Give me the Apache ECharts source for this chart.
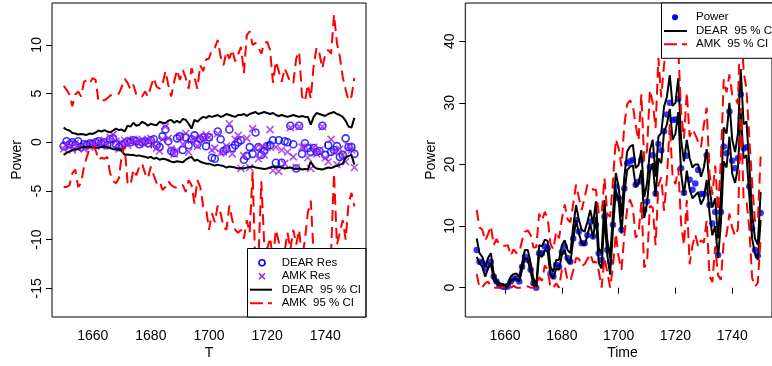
<!DOCTYPE html>
<html><head><meta charset="utf-8">
<script src="https://cdn.jsdelivr.net/npm/echarts@6/dist/echarts.min.js"></script>
<style>html,body{margin:0;padding:0;background:#fff}#c{width:772px;height:366px}</style>
</head><body><div id="c"></div><script>
const years = [1650,1651,1652,1653,1654,1655,1656,1657,1658,1659,1660,1661,1662,1663,1664,1665,1666,1667,1668,1669,1670,1671,1672,1673,1674,1675,1676,1677,1678,1679,1680,1681,1682,1683,1684,1685,1686,1687,1688,1689,1690,1691,1692,1693,1694,1695,1696,1697,1698,1699,1700,1701,1702,1703,1704,1705,1706,1707,1708,1709,1710,1711,1712,1713,1714,1715,1716,1717,1718,1719,1720,1721,1722,1723,1724,1725,1726,1727,1728,1729,1730,1731,1732,1733,1734,1735,1736,1737,1738,1739,1740,1741,1742,1743,1744,1745,1746,1747,1748,1749,1750];
const xTicks = [1660,1680,1700,1720,1740];
const yTicksLeft = [-15,-10,-5,0,5,10];
const yTicksRight = [0,10,20,30,40];

// Left panel: residuals and 95% CI bands
const dearRes = [-0.4,0.1,-0.2,0.0,-0.3,0.1,-0.5,-0.2,-0.3,-0.1, -0.2,0.0,0.1,-0.1,0.0,-0.3,0.3,0.4,-0.2,-0.5, -0.3,-0.1,0.1,0.0,0.2,0.1,-0.2,0.0,0.1,-0.1, 0.2,0.3,-0.3,-0.5,0.6,1.3,0.1,-0.9,-1.1,0.4, 0.6,-0.8,0.5,-0.3,0.3,0.7,-0.2,0.3,0.5,-0.4, 0.5,-1.6,-1.7,1.1,0.3,-0.9,-0.7,1.3,-0.6,-0.3, 0.0,0.2,-1.8,-1.4,-0.5,-1.2,1.0,-0.5,-1.3,-0.9, -0.4,-0.3,0.2,-2.1,0.2,-2.1,0.1,0.0,1.7,-0.2, -2.7,1.7,-1.2,-0.1,-0.6,-1.0,-0.6,-1.0,-0.9,1.7, -1.3,-0.3,-1.0,-0.8,-0.4,-1.5,-1.3,0.4,-0.5,-0.5,-1.2];
const amkRes = [-0.7,-0.2,-0.5,-0.8,-0.1,-0.6,-0.4,-0.7,-0.2,-0.5, -0.1,-0.3,0.0,-0.4,0.2,-0.2,0.5,0.8,0.1,-0.7, -0.1,0.2,-0.3,0.1,0.3,0.0,-0.1,0.3,-0.2,0.1, 0.4,-0.2,-0.6,-0.9,0.3,1.6,0.4,-0.7,-1.2,-0.8, 0.6,-0.2,0.9,-1.0,0.2,0.4,-0.4,0.6,0.2,0.8, 0.5,-0.8,-0.6,0.9,-1.1,-1.0,-0.4,1.9,-1.2,0.3, 0.7,-2.7,-1.4,0.4,-2.6,1.4,-0.6,-1.7,-0.5,-1.3, -0.5,1.3,-2.9,-0.5,-3.0,-0.8,-2.2,-1.0,1.5,-1.5, -2.6,1.6,-0.5,-0.45,-1.6,-2.7,-0.5,-1.2,-0.8,1.6, -1.6,-2.0,0.3,-1.0,-2.3,-0.7,-1.3,-2.0,-0.4,-0.8,-2.6];
const dearUpL = [1.5,1.3,1.2,0.95,0.9,0.8,0.85,0.8,0.75,0.9, 0.85,1.0,1.2,1.1,1.25,1.1,1.0,1.2,1.4,1.25, 1.3,1.1,1.7,1.6,2.0,1.7,1.8,2.1,1.95,1.7, 1.9,1.8,1.75,2.1,2.0,1.95,2.2,2.3,2.0,2.2, 2.0,2.4,2.3,1.9,1.4,2.3,2.1,2.4,2.6,2.5, 2.7,2.6,2.7,2.8,2.6,2.7,2.9,2.8,2.7,2.6, 2.8,2.8,2.9,2.7,2.9,3.0,3.1,2.9,3.0,3.1, 3.0,2.9,3.0,2.8,2.7,2.8,2.7,2.6,2.7,2.8, 2.7,2.6,2.7,2.6,2.6,1.8,2.6,3.0,2.9,2.8, 2.7,2.9,3.0,3.1,2.9,2.8,2.6,2.2,1.6,1.5,2.5];
const dearLoL = [-1.3,-1.1,-0.95,-0.8,-0.75,-0.7,-0.55,-0.5,-0.5,-0.45, -0.5,-0.6,-0.55,-0.5,-0.45,-0.5,-0.6,-0.7,-0.75,-0.7, -0.85,-1.3,-1.25,-1.3,-1.3,-1.4,-1.35,-1.45,-1.5,-1.6, -1.5,-1.7,-1.6,-1.8,-1.7,-1.75,-1.85,-2.0,-2.05,-1.95, -2.0,-2.05,-1.8,-1.6,-1.5,-1.9,-1.8,-2.0,-2.1,-2.2, -2.2,-2.3,-2.4,-2.3,-2.4,-2.45,-2.6,-2.5,-2.55,-2.6, -2.7,-2.65,-2.7,-2.6,-2.55,-2.5,-2.6,-2.65,-2.7,-2.75, -2.7,-2.6,-2.5,-2.6,-2.55,-2.6,-2.7,-2.65,-2.6,-2.7, -2.75,-2.7,-2.8,-2.75,-2.8,-2.0,-2.5,-2.7,-2.75,-2.8, -2.7,-2.6,-2.65,-2.5,-2.45,-2.3,-2.2,-1.6,-1.4,-1.3,-2.3];
const amkUpL = [5.8,5.4,4.9,3.7,4.9,5.2,4.7,6.2,6.4,6.1, 6.6,6.4,4.2,4.3,4.3,4.5,4.8,4.9,4.9,5.0, 5.7,6.5,6.1,5.4,5.9,4.9,4.7,4.7,5.2,4.7, 5.7,6.6,5.7,5.5,5.9,7.3,5.9,4.7,6.2,7.4, 6.4,7.4,6.6,5.5,7.6,6.7,5.5,7.9,7.3,8.5, 8.6,9.5,9.7,10.5,8.8,7.9,9.3,8.6,9.5,8.3, 9.0,9.8,7.1,11.0,11.4,10.0,10.2,9.7,9.1,10.2, 10.3,9.5,6.1,8.3,7.3,6.2,7.6,6.9,6.1,6.1, 8.6,9.3,4.7,4.2,5.9,4.5,7.9,9.7,9.1,7.6, 9.1,9.5,9.1,13.1,10.2,8.8,6.7,5.4,4.3,4.7,6.6];
const amkLoL = [-4.6,-4.6,-4.4,-3.2,-2.8,-4.6,-4.2,-2.5,-1.5,-0.6, -0.4,-0.8,-1.8,-1.6,-1.7,-1.5,-3.2,-4.0,-4.2,-3.7, -1.3,-0.4,-4.2,-4.4,-2.8,-3.4,-2.5,-2.2,-3.2,-3.7, -2.5,-3.4,-4.2,-4.0,-4.9,-4.6,-4.0,-4.4,-4.6,-4.7, -4.6,-4.4,-5.1,-3.9,-4.4,-6.3,-3.9,-4.6,-6.6,-6.8, -9.0,-7.3,-8.2,-6.5,-7.3,-8.7,-9.0,-6.5,-8.0,-9.0, -9.3,-9.0,-9.9,-8.0,-9.3,-3.0,-13.5,-12.0,-4.0,-10.5, -11.0,-9.8,-12.0,-9.0,-10.2,-14.5,-11.2,-9.3,-11.0,-9.0, -10.5,-9.0,-12.0,-10.0,-7.2,-6.0,-11.5,-16.7,-14.0,-15.0, -12.5,-13.0,-11.2,-3.2,-10.5,-9.3,-8.0,-10.0,-6.3,-5.2,-6.6];

// Right panel: observed power and 95% CI bands
const power = [6.1,4.2,4.0,3.1,3.7,4.2,1.8,1.0,0.4,0.2, 0.1,0.2,1.0,1.5,1.5,1.0,3.4,5.0,4.5,2.9, 0.7,0.0,5.6,5.6,6.7,6.4,2.3,1.8,3.7,3.4, 5.8,6.7,4.8,4.2,8.0,11.0,9.1,7.2,7.2,8.5, 10.7,8.3,10.2,5.6,4.5,11.5,6.1,4.2,10.2,16.4, 14.5,9.4,16.1,20.2,20.5,20.7,16.7,17.2,20.7,12.6, 14.0,19.6,21.5,15.3,23.3,22.3,25.4,28.1,30.0,27.2, 27.3,30.6,19.4,15.4,21.4,17.5,15.9,16.9,19.1,15.2, 15.2,21.5,13.4,10.4,12.3,5.3,12.3,22.9,21.8,28.6, 20.6,19.4,21.0,31.4,22.6,22.8,16.4,9.6,6.1,5.2,12.1];
const dearUpR = [8.0,5.6,5.0,3.4,4.8,5.6,2.3,1.2,0.7,0.6, 0.4,0.7,1.8,2.2,2.3,1.8,4.0,6.1,6.1,4.0, 1.5,0.4,6.9,6.7,7.8,7.6,3.4,2.6,4.5,4.5, 6.9,7.7,6.1,5.6,9.9,13.4,11.0,9.4,9.1,10.7, 12.6,10.4,14.0,6.4,5.6,14.2,7.7,4.8,12.0,18.6, 16.4,11.5,18.0,22.1,22.9,23.2,19.4,19.9,22.3,14.7, 16.9,22.3,24.0,18.0,24.5,25.1,29.4,31.0,34.5,29.5, 30.0,34.0,24.0,20.5,24.0,21.0,19.5,20.0,20.0,18.0, 19.5,22.5,16.0,13.0,14.5,8.0,15.0,26.0,25.0,30.0, 24.0,22.0,25.0,35.5,26.5,27.0,20.0,12.0,8.0,7.0,15.5];
const dearLoR = [5.0,4.0,3.4,1.8,3.1,4.0,1.2,0.7,0.3,0.2, 0.05,0.2,1.0,1.4,1.5,1.0,2.9,4.8,4.5,2.6, 0.4,0.05,5.3,5.0,6.1,5.8,2.1,1.5,3.1,2.9, 5.3,6.1,4.2,4.0,7.7,11.0,8.8,7.2,6.9,8.5, 10.4,8.0,11.5,4.0,3.1,11.5,5.3,2.1,9.4,15.9, 14.0,8.8,15.3,19.1,19.6,19.9,16.4,16.9,19.1,11.3, 13.7,18.8,20.2,14.8,21.0,20.2,25.3,26.5,29.0,24.0, 25.0,28.5,18.5,15.0,19.0,16.0,14.5,15.0,15.5,13.5, 14.5,17.5,12.0,8.5,10.0,4.8,10.5,20.5,19.5,24.5, 18.5,17.0,19.5,28.5,21.0,21.5,15.0,8.0,5.5,4.5,11.0];
const amkUpR = [12.6,9.8,9.4,7.6,8.7,10.0,6.9,7.9,7.0,6.8, 6.8,6.9,5.2,6.2,5.6,5.7,7.7,9.1,9.3,8.6, 6.5,6.6,12.0,10.9,12.3,11.3,7.1,6.2,9.1,8.0, 11.1,13.5,11.1,10.6,13.6,16.7,14.6,12.6,14.6,16.7, 16.5,15.9,15.9,12.1,11.9,17.8,12.0,11.5,17.3,24.1, 22.6,19.7,26.4,29.8,30.4,29.6,26.4,23.9,31.4,20.6, 22.3,32.1,30.0,25.9,37.3,30.9,36.2,39.5,39.6,38.7, 38.1,38.8,28.4,24.2,31.7,24.5,25.7,24.8,23.7,22.8, 26.4,29.2,18.6,15.1,19.8,12.5,20.7,33.8,31.7,34.6, 31.3,30.9,29.8,45.5,35.1,32.3,24.4,17.0,10.8,10.7,21.3];
const amkLoR = [2.2,0,0.1,0.7,1.0,0.2,0,0,0,0.1, 0,0,0,0.3,0,0,0,0.2,0.2,0, 0,0,1.7,1.1,3.6,3.0,0,0,0.7,0, 2.9,3.5,1.2,1.1,2.8,4.8,4.7,3.5,3.8,4.6, 5.5,4.1,4.2,2.7,0,4.8,2.6,0,3.4,8.8, 5.0,2.9,8.5,12.8,14.3,13.0,8.1,8.8,13.9,3.3, 4.0,13.3,13.0,6.9,16.6,17.9,12.5,17.8,26.5,18.0, 16.8,19.5,10.3,6.9,14.2,3.8,6.9,8.6,6.6,7.7, 7.3,10.9,1.9,0.9,6.7,2.0,1.3,7.4,8.6,12.0, 9.7,8.4,9.5,29.2,14.4,14.2,9.7,1.6,0.2,0.8,8.1];

const FONT = '"Liberation Sans", Arial, Helvetica, sans-serif';
const BLUE = '#0000FF', PURPLE = '#A020F0', RED = '#FF0000', BLACK = '#000000';
const DASH = [11, 6];
const pairs = arr => years.map((y, i) => [y, arr[i]]);
const plain = v => String(v);

function xAxisFor(gi) {
  return {
    type: 'value', gridIndex: gi, min: 1646, max: 1754,
    axisLine: { show: false }, splitLine: { show: false },
    axisTick: { show: true, length: 6, customValues: xTicks, lineStyle: { color: BLACK, width: 1 } },
    axisLabel: { customValues: xTicks, formatter: plain, color: BLACK, fontSize: 14, fontFamily: FONT, margin: 12 }
  };
}
function yAxisFor(gi, min, max, ticks) {
  return {
    type: 'value', gridIndex: gi, min: min, max: max,
    axisLine: { show: false }, splitLine: { show: false },
    axisTick: { show: true, length: 6, customValues: ticks, lineStyle: { color: BLACK, width: 1 } },
    axisLabel: { customValues: ticks, formatter: plain, color: BLACK, fontSize: 14, fontFamily: FONT, rotate: 90, margin: 8 }
  };
}
function lineS(xi, data, color, dashed) {
  return {
    type: 'line', xAxisIndex: xi, yAxisIndex: xi, data: pairs(data), symbol: 'none', z: 3,
    lineStyle: { color: color, width: 2, type: dashed ? DASH : 'solid' }, animation: false, silent: true
  };
}

const chart = echarts.init(document.getElementById('c'), null, { renderer: 'canvas' });
const legendZ = 100;
const LFS = 11.5;
const txt = (x, y, s, size, extra) => Object.assign({
  type: 'text', x: x, y: y, z: legendZ,
  style: { text: s, fontSize: size, fontFamily: FONT, fill: BLACK, align: 'left', verticalAlign: 'middle' }
}, extra || {});
const title = (x, y, s, rot) => ({
  type: 'text', x: x, y: y, z: legendZ, rotation: rot || 0,
  style: { text: s, fontSize: 14, fontFamily: FONT, fill: BLACK, align: 'center', verticalAlign: 'middle' }
});

chart.setOption({
  animation: false,
  backgroundColor: '#ffffff',
  grid: [
    { left: 52, top: 3, width: 314, height: 314, show: true, borderColor: BLACK, borderWidth: 1, backgroundColor: 'transparent' },
    { left: 465.3, top: 3, width: 314.3, height: 314, show: true, borderColor: BLACK, borderWidth: 1, backgroundColor: 'transparent' }
  ],
  xAxis: [xAxisFor(0), xAxisFor(1)],
  yAxis: [yAxisFor(0, -17.95, 14.3, yTicksLeft), yAxisFor(1, -4.76, 46.2, yTicksRight)],
  series: [
    { type: 'scatter', xAxisIndex: 0, yAxisIndex: 0, data: pairs(dearRes), symbol: 'circle', symbolSize: 7, z: 2,
      itemStyle: { color: 'rgba(0,0,0,0)', borderColor: BLUE, borderWidth: 1.6 } },
    { type: 'scatter', xAxisIndex: 0, yAxisIndex: 0, data: pairs(amkRes), symbol: 'path://M0 0L10 10M10 0L0 10', symbolSize: 7, z: 2,
      itemStyle: { color: 'rgba(0,0,0,0)', borderColor: PURPLE, borderWidth: 1.6 } },
    lineS(0, dearUpL, BLACK, false),
    lineS(0, dearLoL, BLACK, false),
    lineS(0, amkUpL, RED, true),
    lineS(0, amkLoL, RED, true),
    { type: 'scatter', xAxisIndex: 1, yAxisIndex: 1, data: pairs(power), symbol: 'circle', symbolSize: 6.5, z: 2,
      itemStyle: { color: BLUE } },
    lineS(1, dearUpR, BLACK, false),
    lineS(1, dearLoR, BLACK, false),
    lineS(1, amkUpR, RED, true),
    lineS(1, amkLoR, RED, true)
  ],
  graphic: [
    title(209, 353, 'T'),
    title(622.5, 353, 'Time'),
    title(17, 160, 'Power', Math.PI / 2),
    title(431, 160, 'Power', Math.PI / 2),
    // left legend
    { type: 'rect', z: legendZ - 1, shape: { x: 247.5, y: 248.5, width: 118.5, height: 68.5 }, style: { fill: '#fff', stroke: BLACK, lineWidth: 1 } },
    { type: 'circle', z: legendZ, shape: { cx: 262, cy: 262.7, r: 3 }, style: { fill: 'none', stroke: BLUE, lineWidth: 1.6 } },
    { type: 'line', z: legendZ, shape: { x1: 259, y1: 273.3, x2: 265, y2: 279.3 }, style: { stroke: PURPLE, lineWidth: 1.6 } },
    { type: 'line', z: legendZ, shape: { x1: 265, y1: 273.3, x2: 259, y2: 279.3 }, style: { stroke: PURPLE, lineWidth: 1.6 } },
    { type: 'line', z: legendZ, shape: { x1: 250, y1: 289.7, x2: 272, y2: 289.7 }, style: { stroke: BLACK, lineWidth: 2 } },
    { type: 'line', z: legendZ, shape: { x1: 250, y1: 303.3, x2: 272, y2: 303.3 }, style: { stroke: RED, lineWidth: 2, lineDash: [13, 5] } },
    txt(281.7, 262.7, 'DEAR Res', LFS),
    txt(281.7, 276.3, 'AMK Res', LFS),
    txt(281.7, 289.7, 'DEAR  95 % CI', LFS),
    txt(281.7, 303.3, 'AMK  95 % CI', LFS),
    { type: 'rect', z: legendZ + 1, shape: { x: 366.5, y: 250, width: 20, height: 66 }, style: { fill: '#fff' } },
    { type: 'line', z: legendZ + 2, shape: { x1: 366, y1: 248.5, x2: 366, y2: 317 }, style: { stroke: BLACK, lineWidth: 1 } },
    // right legend
    { type: 'rect', z: legendZ - 1, shape: { x: 661.5, y: 3, width: 200, height: 55.3 }, style: { fill: '#fff', stroke: BLACK, lineWidth: 1 } },
    { type: 'circle', z: legendZ, shape: { cx: 675, cy: 17.3, r: 3 }, style: { fill: BLUE } },
    { type: 'line', z: legendZ, shape: { x1: 664, y1: 31, x2: 687, y2: 31 }, style: { stroke: BLACK, lineWidth: 2 } },
    { type: 'line', z: legendZ, shape: { x1: 664, y1: 44.3, x2: 687, y2: 44.3 }, style: { stroke: RED, lineWidth: 2, lineDash: [13, 5] } },
    txt(696, 17.3, 'Power', LFS),
    txt(696, 31, 'DEAR  95 % CI', LFS),
    txt(696, 44.3, 'AMK  95 % CI', LFS)
  ]
});
</script></body></html>
